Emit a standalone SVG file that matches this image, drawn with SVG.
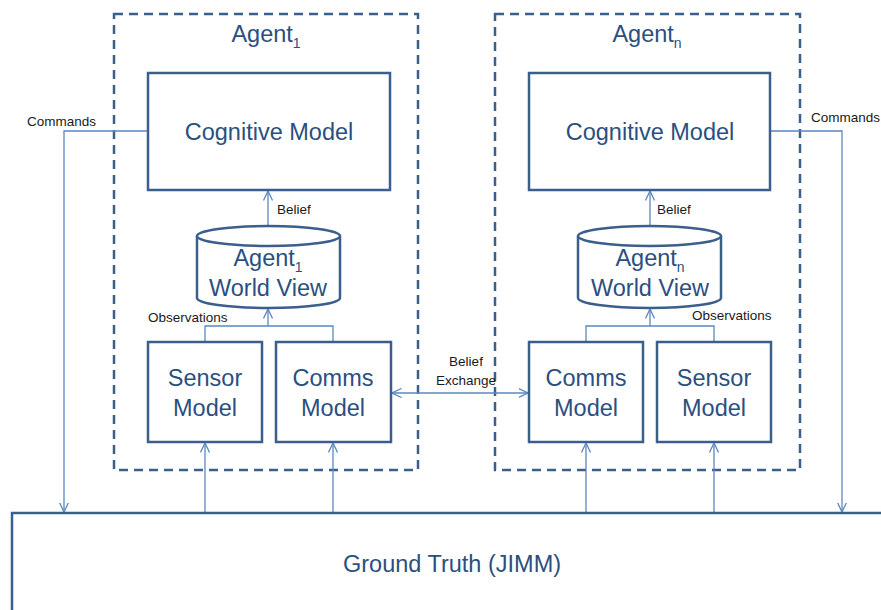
<svg xmlns="http://www.w3.org/2000/svg" width="881" height="610" viewBox="0 0 881 610">
  <style>
    .frame { fill: none; stroke: #3a5f8c; stroke-width: 2.5; stroke-dasharray: 9 6; }
    .box { fill: #ffffff; stroke: #3a5f8c; stroke-width: 2.5; }
    .link { fill: none; stroke: #5b87c2; stroke-width: 1.3; }
    .big { font-family: "Liberation Sans", Arial, sans-serif; font-size: 23.5px; fill: #2b4f80; text-anchor: middle; }
    .small { font-family: "Liberation Sans", Arial, sans-serif; font-size: 13.5px; fill: #1a1a1a; }
    .sub { font-size: 14px; }
  </style>
  <defs>
    <marker id="arr" viewBox="0 0 10 10" refX="9.5" refY="5" markerWidth="10" markerHeight="10" markerUnits="userSpaceOnUse" orient="auto-start-reverse">
      <path d="M0,0.5 L9.5,5 L0,9.5" fill="none" stroke="#5b87c2" stroke-width="1.3"/>
    </marker>
  </defs>

  <rect width="881" height="610" fill="#ffffff"/>

  <!-- Agent 1 container -->
  <g id="agent1">
    <rect class="frame" x="114" y="14" width="304" height="456"/>
    <text class="big" x="266" y="42">Agent<tspan class="sub" dy="6">1</tspan></text>
  </g>

  <!-- Agent n container -->
  <g id="agentn">
    <rect class="frame" x="495" y="14" width="305" height="456"/>
    <text class="big" x="647" y="42">Agent<tspan class="sub" dy="6">n</tspan></text>
  </g>

  <!-- connectors -->
  <g id="connectors">
    <!-- commands to ground truth -->
    <polyline class="link" points="148,131 64,131 64,512" marker-end="url(#arr)"/>
    <polyline class="link" points="770,131 842,131 842,512" marker-end="url(#arr)"/>
    <!-- belief -->
    <line class="link" x1="268" y1="226" x2="268" y2="191" marker-end="url(#arr)"/>
    <line class="link" x1="650" y1="226" x2="650" y2="191" marker-end="url(#arr)"/>
    <!-- observations agent 1 -->
    <polyline class="link" points="205,342 205,326 333,326 333,342"/>
    <line class="link" x1="268" y1="326" x2="268" y2="309" marker-end="url(#arr)"/>
    <!-- observations agent n -->
    <polyline class="link" points="586,342 586,326 714,326 714,342"/>
    <line class="link" x1="650" y1="326" x2="650" y2="309" marker-end="url(#arr)"/>
    <!-- belief exchange -->
    <line class="link" x1="392" y1="393" x2="528" y2="393" marker-start="url(#arr)" marker-end="url(#arr)"/>
    <!-- ground truth feeds -->
    <line class="link" x1="205" y1="513" x2="205" y2="443" marker-end="url(#arr)"/>
    <line class="link" x1="333" y1="513" x2="333" y2="443" marker-end="url(#arr)"/>
    <line class="link" x1="586" y1="513" x2="586" y2="443" marker-end="url(#arr)"/>
    <line class="link" x1="714" y1="513" x2="714" y2="443" marker-end="url(#arr)"/>
    <!-- labels -->
    <text class="small" x="27" y="126">Commands</text>
    <text class="small" x="811" y="122">Commands</text>
    <text class="small" x="277" y="214">Belief</text>
    <text class="small" x="657" y="214">Belief</text>
    <text class="small" x="148" y="322">Observations</text>
    <text class="small" x="692" y="320">Observations</text>
    <text class="small" x="466" y="366" text-anchor="middle">Belief</text>
    <text class="small" x="466" y="385" text-anchor="middle">Exchange</text>
  </g>

  <g id="cognitive1">
    <rect class="box" x="148" y="73" width="242" height="117"/>
    <text class="big" x="269" y="140">Cognitive Model</text>
  </g>
  <g id="cognitiven">
    <rect class="box" x="529" y="73" width="241" height="117"/>
    <text class="big" x="650" y="140">Cognitive Model</text>
  </g>

  <g id="worldview1">
    <path class="box" d="M197,236 A71.5,10 0 0 1 340,236 L340,298 A71.5,10 0 0 1 197,298 Z"/>
    <path class="box" d="M197,236 A71.5,10 0 0 0 340,236" fill="none"/>
    <text class="big" x="268" y="266">Agent<tspan class="sub" dy="6">1</tspan></text>
    <text class="big" x="268" y="296">World View</text>
  </g>
  <g id="worldviewn">
    <path class="box" d="M578,236 A71.5,10 0 0 1 721,236 L721,298 A71.5,10 0 0 1 578,298 Z"/>
    <path class="box" d="M578,236 A71.5,10 0 0 0 721,236" fill="none"/>
    <text class="big" x="650" y="266">Agent<tspan class="sub" dy="6">n</tspan></text>
    <text class="big" x="650" y="296">World View</text>
  </g>

  <g id="sensor1">
    <rect class="box" x="148" y="342" width="114" height="100"/>
    <text class="big" x="205" y="386">Sensor</text>
    <text class="big" x="205" y="416">Model</text>
  </g>
  <g id="comms1">
    <rect class="box" x="276" y="342" width="115" height="100"/>
    <text class="big" x="333" y="386">Comms</text>
    <text class="big" x="333" y="416">Model</text>
  </g>
  <g id="commsn">
    <rect class="box" x="529" y="342" width="114" height="100"/>
    <text class="big" x="586" y="386">Comms</text>
    <text class="big" x="586" y="416">Model</text>
  </g>
  <g id="sensorn">
    <rect class="box" x="657" y="342" width="114" height="100"/>
    <text class="big" x="714" y="386">Sensor</text>
    <text class="big" x="714" y="416">Model</text>
  </g>

  <g id="groundtruth">
    <rect class="box" x="12" y="513" width="880" height="110"/>
    <text class="big" x="452" y="572">Ground Truth (JIMM)</text>
  </g>
</svg>
